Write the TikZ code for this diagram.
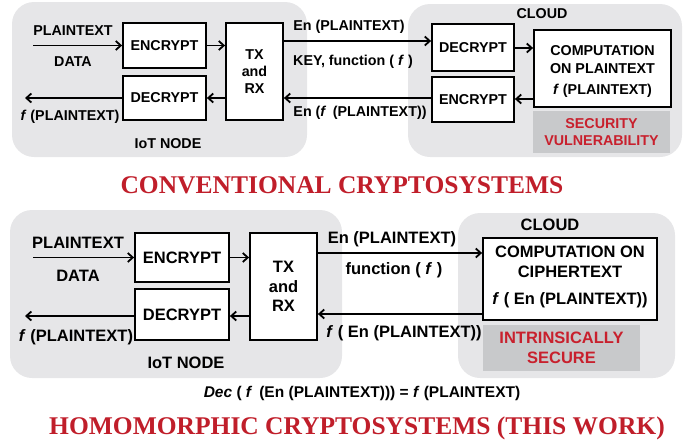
\documentclass[tikz,border=0pt]{standalone}
\usepackage{fontspec}
\setmainfont{Liberation Sans}
\newfontfamily\titlefont{Liberation Serif}
\usetikzlibrary{arrows.meta}
\definecolor{bggray}{RGB}{230,230,232}
\definecolor{boxgray}{RGB}{200,201,203}
\definecolor{alertred}{RGB}{200,32,45}
\definecolor{titlered}{RGB}{192,30,42}
\tikzset{
  bgbox/.style={fill=bggray, draw=none, rounded corners=22pt, inner sep=0pt},
  blk/.style={draw, line width=1.8pt, fill=white, inner sep=0pt},
  graybox/.style={fill=boxgray, draw=none, inner sep=0pt, align=center, text=alertred},
  arr/.style={line width=1.8pt, -{Straight Barb[length=5pt,width=9pt]}},
  fa/.style={font=\fontsize{14.3}{17}\selectfont\bfseries, inner sep=0pt},
  fb/.style={font=\fontsize{16.5}{19.5}\selectfont\bfseries, inner sep=0pt},
  ttl/.style={font=\titlefont\fontsize{25.5}{30}\selectfont\bfseries, text=titlered, inner sep=0pt}
}
\begin{document}
\begin{tikzpicture}[x=1pt,y=-1pt]
\useasboundingbox (0,0) rectangle (685,445);

% ===== Conventional =====
\node[bgbox, minimum width=295pt, minimum height=155pt] (iotbg1) at (159.5,79.5) {};
\node[bgbox, minimum width=274pt, minimum height=153pt] (cloudbg1) at (545,80.5) {};

\node[blk, fa, minimum width=83pt, minimum height=45pt] (enc1) at (164.5,45.5) {ENCRYPT};
\node[blk, fa, minimum width=83pt, minimum height=44pt] (dec1) at (164.5,98) {DECRYPT};
\node[blk, fa, align=center, minimum width=57pt, minimum height=97pt] (txrx1) at (254.5,71.5) {TX\\and\\RX};
\node[blk, fa, minimum width=82pt, minimum height=47pt] (cdec1) at (473,47.5) {DECRYPT};
\node[blk, fa, minimum width=82pt, minimum height=45pt] (cenc1) at (473,99.5) {ENCRYPT};
\node[blk, minimum width=137pt, minimum height=77pt] (comp1) at (602.5,68.5) {};
\node[fa] (comp1a) at (602.5,51) {COMPUTATION};
\node[fa] (comp1b) at (602.5,69) {ON PLAINTEXT};
\node[fa] (comp1c) at (602.5,91) {\textit{f} (PLAINTEXT)};
\node[graybox, fa, text=alertred, minimum width=137pt, minimum height=42pt] (sec1) at (601.5,132) {SECURITY\\VULNERABILITY};

\node[fa] (pt1) at (73,31) {PLAINTEXT};
\node[fa] (data1) at (73,62) {DATA};
\node[fa] (fpt1) at (70,117) {\textit{f} (PLAINTEXT)};
\node[fa] (iotl1) at (168,144) {IoT NODE};
\node[fa] (cloudl1) at (542,14) {CLOUD};
\node[fa] (l1a) at (349,27) {En (PLAINTEXT)};
\node[fa] (l1b) at (353,62) {KEY, function ( \textit{f} )};
\node[fa] (l1c) at (360,113) {En (\textit{f}\, (PLAINTEXT))};

\coordinate (in1) at (33,45.5);
\coordinate (out1) at (25,98);
\draw[arr] (in1) -- (enc1.west);
\draw[arr] (dec1.west) -- (out1);
\draw[arr] (enc1.east) -- (enc1.east -| txrx1.west);
\draw[arr] (txrx1.west |- dec1.east) -- (dec1.east);
\draw[arr] (txrx1.east |- 0,41) -- (cdec1.west |- 0,41);
\draw[arr] (cenc1.west |- 0,98) -- (txrx1.east |- 0,98);
\draw[arr] (cdec1.east |- 0,48) -- (comp1.west |- 0,48);
\draw[arr] (comp1.west |- 0,99) -- (cenc1.east |- 0,99);

\node[ttl] (title1) at (342,185) {CONVENTIONAL CRYPTOSYSTEMS};

% ===== Homomorphic =====
\node[bgbox, minimum width=332pt, minimum height=168pt] (iotbg2) at (176,294) {};
\node[bgbox, minimum width=217pt, minimum height=165pt] (cloudbg2) at (566.5,295.5) {};

\node[blk, fb, minimum width=94pt, minimum height=49pt] (enc2) at (182,257.5) {ENCRYPT};
\node[blk, fb, minimum width=94pt, minimum height=51pt] (dec2) at (182,314.5) {DECRYPT};
\node[blk, fb, align=center, minimum width=67pt, minimum height=107pt] (txrx2) at (283.5,286.5) {TX\\and\\RX};
\node[blk, minimum width=174pt, minimum height=82pt] (comp2) at (570,279) {};
\node[fb] (comp2a) at (570,252) {COMPUTATION ON};
\node[fb] (comp2b) at (570,272) {CIPHERTEXT};
\node[fb] (comp2c) at (570,300) {\textit{f} ( En (PLAINTEXT))};
\node[graybox, fb, text=alertred, minimum width=157pt, minimum height=46pt] (sec2) at (561.5,348) {INTRINSICALLY\\SECURE};

\node[fb] (pt2) at (78,243) {PLAINTEXT};
\node[fb] (data2) at (78,276) {DATA};
\node[fb] (fpt2) at (76,337) {\textit{f} (PLAINTEXT)};
\node[fb] (iotl2) at (186,363) {IoT NODE};
\node[fb] (cloudl2) at (550,225) {CLOUD};
\node[fb] (l2a) at (392,239) {En (PLAINTEXT)};
\node[fb] (l2b) at (394,270) {function ( \textit{f} )};
\node[fb] (l2c) at (404,333) {\textit{f} ( En (PLAINTEXT))};

\coordinate (in2) at (33,257.5);
\coordinate (out2) at (25,316);
\draw[arr] (in2) -- (enc2.west);
\draw[arr] (dec2.west |- out2) -- (out2);
\draw[arr] (enc2.east) -- (enc2.east -| txrx2.west);
\draw[arr] (txrx2.west |- 0,316) -- (dec2.east |- 0,316);
\draw[arr] (txrx2.east |- 0,253) -- (comp2.west |- 0,253);
\draw[arr] (comp2.west |- 0,314) -- (txrx2.east |- 0,314);

\node[fa, font=\fontsize{15.5}{18}\selectfont\bfseries] (dec) at (362,393) {\textit{Dec} ( \textit{f}\, (En (PLAINTEXT))) = \textit{f} (PLAINTEXT)};

\node[ttl] (title2) at (357,428) {HOMOMORPHIC CRYPTOSYSTEMS (THIS WORK)};
\end{tikzpicture}
\end{document}
